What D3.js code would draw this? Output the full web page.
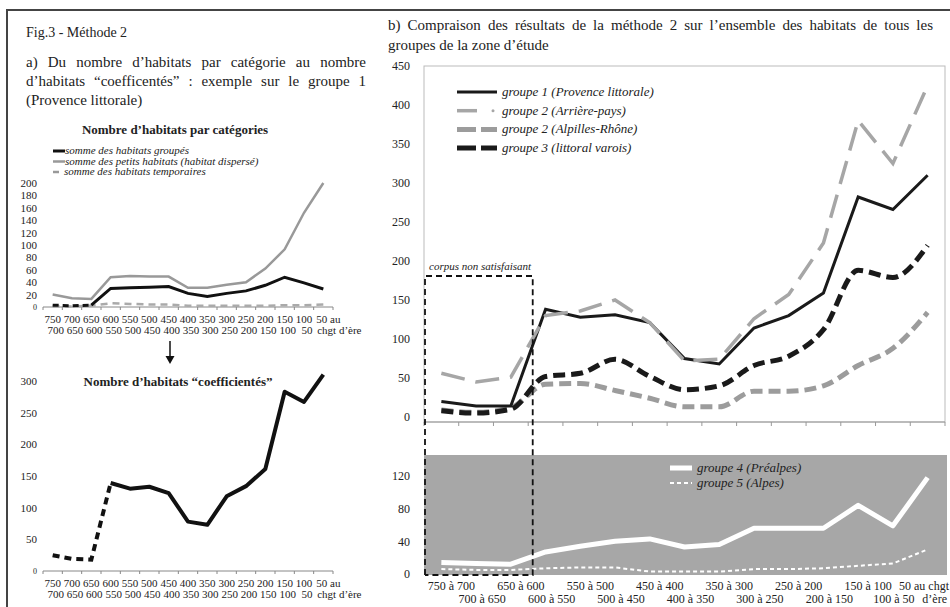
<!DOCTYPE html>
<html>
<head>
<meta charset="utf-8">
<script src="https://cdn.jsdelivr.net/npm/d3@7"></script>
<style>
body { margin: 0; background: #fff; }
svg { display: block; font-family: "Liberation Serif", "DejaVu Serif", serif; }
svg text { font-family: "Liberation Serif", "DejaVu Serif", serif !important; fill: #222; }
</style>
</head>
<body>
<div id="chart"></div>
<script>
// categories (periods before our era)
var categories = ["750 à 700","700 à 650","650 à 600","600 à 550","550 à 500","500 à 450","450 à 400",
	"400 à 350","350 à 300","300 à 250","250 à 200","200 à 150","150 à 100","100 à 50","50 au chgt d’ère"];
var shortTop = ["750","700","650","600","550","500","450","400","350","300","250","200","150","100","50 au"];
var shortBottom = ["700","650","600","550","500","450","400","350","300","250","200","150","100","50","chgt d’ère"];
var longTop = ["750 à 700","","650 à 600","","550 à 500","","450 à 400","","350 à 300","","250 à 200","","150 à 100","","50 au chgt"];
var longBottom = ["","700 à 650","","600 à 550","","500 à 450","","400 à 350","","300 à 250","","200 à 150","","100 à 50","d’ère"];

// a) groupe 1 by category
var groupes = [3,2,3,30,31,32,33,22,17,22,26,35,48,39,29];
var petits = [20,14,13,48,50,49,49,31,31,36,40,62,93,152,200];
var temporaires = [1,1,2,6,5,4,4,2,2,2,2,2,3,3,4];
var coefficientes = [25,19,18,139,130,133,123,78,73,118,134,161,283,267,310];

// b) all groups
var g1 = [20,14,14,138,128,131,121,75,68,114,130,159,282,266,310];
var g2Arriere = [56,45,51,130,136,150,121,72,74,126,157,223,380,325,425];
var g2Alpilles = [9,6,12,42,43,34,24,13,13,33,33,40,66,88,134];
var g3 = [8,5,10,52,56,74,52,35,40,66,78,112,188,179,220];
var g4 = [14,13,12,27,34,40,43,33,36,56,56,56,84,59,118];
var g5 = [6,5,5,7,8,8,3,3,3,6,6,7,10,13,30];

var ticksTop = [0,20,40,60,80,100,120,140,160,180,200];
var ticksCoef = [0,50,100,150,200,250,300];
var ticksB = [0,50,100,150,200,250,300,350,400,450];
var ticksB2 = [0,40,80,120];

var W = 950, H = 607;
var svg = d3.select('#chart').append('svg').attr('width', W).attr('height', H);
svg.append('rect').attr('width', W).attr('height', H).attr('fill', '#fff');

// frame
svg.append('path').attr('d', 'M7,607V10H950').attr('fill', 'none').attr('stroke', '#444').attr('stroke-width', 2);

function justify(t, width){
	var len = t.node().getComputedTextLength();
	var n = (t.text().match(/ /g) || []).length;
	if (n > 0) t.style('word-spacing', ((width - len) / n) + 'px');
}
function para(x, y, txt, size, width){
	var t = svg.append('text').attr('x', x).attr('y', y).style('font-size', size + 'px').text(txt);
	if (width) justify(t, width);
	return t;
}

// headings
para(26, 37, 'Fig.3 - Méthode 2', 14);
para(26, 67, 'a) Du nombre d’habitats par catégorie au nombre', 15, 340);
para(26, 86, 'd’habitats “coefficentés” : exemple sur le groupe 1', 15, 340);
para(26, 105, '(Provence littorale)', 15);
para(388, 30, 'b) Compraison des résultats de la méthode 2 sur l’ensemble des habitats de tous les', 15, 545);
para(388, 50, 'groupes de la zone d’étude', 15);

///***** left charts *****///
var xl = d3.scaleBand().domain(categories).range([43, 333]);
function cxl(i){ return xl(categories[i]) + xl.bandwidth() / 2; }

function leftAxis(y, ticks, y0){
	var g = svg.append('g').attr('transform', 'translate(43,0)')
		.call(d3.axisLeft(y).tickValues(ticks).tickSize(0).tickPadding(6));
	g.attr('font-family', null);
	g.select('.domain').remove();
	g.selectAll('text').style('font-size', '11px').attr('fill', '#222');
	g.selectAll('text').filter(function(d){ return d === 0; }).style('font-size', '8px').attr('fill', '#777');
	svg.append('line').attr('x1', 43).attr('x2', 333).attr('y1', y0).attr('y2', y0).attr('stroke', '#888');
	svg.selectAll(null).data(d3.range(categories.length + 1)).enter().append('line')
		.attr('x1', function(i){ return 43 + i * xl.step(); }).attr('x2', function(i){ return 43 + i * xl.step(); })
		.attr('y1', y0).attr('y2', y0 + 3).attr('stroke', '#888');
	svg.selectAll(null).data(shortTop).enter().append('text')
		.attr('x', function(d, i){ return cxl(i) + (i == 14 ? 5 : 0); }).attr('y', y0 + 16)
		.attr('text-anchor', 'middle').style('font-size', '11px').text(function(d){ return d; });
	svg.selectAll(null).data(shortBottom).enter().append('text')
		.attr('x', function(d, i){ return cxl(i) + (i == 14 ? 16 : 3); }).attr('y', y0 + 27)
		.attr('text-anchor', 'middle').style('font-size', '11px').text(function(d){ return d; });
}

// top-left
var yTop = d3.scaleLinear().domain([0, 200]).range([307, 183]);
svg.append('text').attr('x', 175).attr('y', 134).attr('text-anchor', 'middle')
	.style('font-size', '13px').style('font-weight', 'bold').text('Nombre d’habitats par catégories');
leftAxis(yTop, ticksTop, 307);

var lineTop = d3.line().x(function(d, i){ return cxl(i); }).y(function(d){ return yTop(d); });
svg.append('path').attr('d', lineTop(temporaires)).attr('fill', 'none').attr('stroke', '#aaa')
	.attr('stroke-width', 2.5).attr('stroke-dasharray', '7,5');
svg.append('path').attr('d', lineTop(petits)).attr('fill', 'none').attr('stroke', '#999').attr('stroke-width', 2.5);
svg.append('path').attr('d', lineTop(groupes.slice(0, 3))).attr('fill', 'none').attr('stroke', '#111')
	.attr('stroke-width', 3).attr('stroke-dasharray', '6,4');
var lineTopI = d3.line().x(function(d){ return cxl(d[0]); }).y(function(d){ return yTop(d[1]); });
svg.append('path').attr('d', lineTopI(groupes.map(function(v, i){ return [i, v]; }).slice(2))).attr('fill', 'none')
	.attr('stroke', '#111').attr('stroke-width', 3);

var legTop = [
	{text: 'somme des habitats groupés', color: '#111', dash: null, w: 3},
	{text: 'somme des petits habitats (habitat dispersé)', color: '#999', dash: null, w: 2.5},
	{text: 'somme des habitats temporaires', color: '#999', dash: '6,50', w: 2.5}
];
legTop.forEach(function(d, i){
	var y = 154 + i * 10.5;
	svg.append('line').attr('x1', 53).attr('x2', 65).attr('y1', y - 3).attr('y2', y - 3)
		.attr('stroke', d.color).attr('stroke-width', d.w).attr('stroke-dasharray', d.dash);
	svg.append('text').attr('x', i == 2 ? 64 : 65).attr('y', y).style('font-size', '11px')
		.style('font-style', 'italic').attr('fill', '#444').text(d.text);
});

// arrow
svg.append('line').attr('x1', 170).attr('x2', 170).attr('y1', 341).attr('y2', 358).attr('stroke', '#111').attr('stroke-width', 1.5);
svg.append('path').attr('d', 'M165.5,356L170,364L174.5,356Z').attr('fill', '#111');

// bottom-left
var yCoef = d3.scaleLinear().domain([0, 300]).range([571, 381]);
svg.append('text').attr('x', 178).attr('y', 386).attr('text-anchor', 'middle')
	.style('font-size', '13px').style('font-weight', 'bold').text('Nombre d’habitats “coefficientés”');
leftAxis(yCoef, ticksCoef, 571);
var lineCoef = d3.line().x(function(d){ return cxl(d[0]); }).y(function(d){ return yCoef(d[1]); });
var coefPts = coefficientes.map(function(v, i){ return [i, v]; });
svg.append('path').attr('d', lineCoef(coefPts.slice(0, 4))).attr('fill', 'none').attr('stroke', '#111')
	.attr('stroke-width', 4).attr('stroke-dasharray', '7,5');
svg.append('path').attr('d', lineCoef(coefPts.slice(3))).attr('fill', 'none').attr('stroke', '#111')
	.attr('stroke-width', 4).attr('stroke-linejoin', 'round');

///***** right charts *****///
var xr = d3.scaleBand().domain(categories).range([424, 945]);
function cxr(i){ return xr(categories[i]) + xr.bandwidth() / 2; }

// upper
var yB = d3.scaleLinear().domain([0, 450]).range([417, 66]);
svg.append('rect').attr('x', 424).attr('y', 66).attr('width', 521).attr('height', 356)
	.attr('fill', 'none').attr('stroke', '#bbb');
svg.append('line').attr('x1', 424).attr('x2', 945).attr('y1', 422).attr('y2', 422).attr('stroke', '#999');
svg.selectAll(null).data(d3.range(categories.length + 1)).enter().append('line')
	.attr('x1', function(i){ return 424 + i * xr.step(); }).attr('x2', function(i){ return 424 + i * xr.step(); })
	.attr('y1', 422).attr('y2', 426).attr('stroke', '#999');
var axB = svg.append('g').attr('transform', 'translate(424,0)')
	.call(d3.axisLeft(yB).tickValues(ticksB).tickSize(0).tickPadding(14));
axB.attr('font-family', null);
axB.select('.domain').remove();
axB.selectAll('text').style('font-size', '12px').attr('fill', '#222');

var lineB = d3.line().x(function(d, i){ return cxr(i); }).y(function(d){ return yB(d); });
var smoothB = d3.line().x(function(d, i){ return cxr(i); }).y(function(d){ return yB(d); }).curve(d3.curveMonotoneX);
var seriesB = [
	{data: g2Alpilles, color: '#9c9c9c', w: 5, dash: '12,6', gen: smoothB, label: 'groupe 2 (Alpilles-Rhône)'},
	{data: g3, color: '#1a1a1a', w: 5, dash: '12,6', gen: smoothB, label: 'groupe 3 (littoral varois)'},
	{data: g1, color: '#1a1a1a', w: 3, dash: null, gen: lineB, label: 'groupe 1 (Provence littorale)'},
	{data: g2Arriere, color: '#a6a6a6', w: 3.5, dash: '24,11', gen: lineB, label: 'groupe 2 (Arrière-pays)'}
];
seriesB.forEach(function(s){
	svg.append('path').attr('d', s.gen(s.data)).attr('fill', 'none').attr('stroke', s.color)
		.attr('stroke-width', s.w).attr('stroke-dasharray', s.dash);
});

// legend (upper)
var legOrder = [2, 3, 0, 1];
legOrder.forEach(function(k, i){
	var s = seriesB[k], y = 92 + i * 18.7;
	if (k == 3) {
		svg.append('line').attr('x1', 457).attr('x2', 477).attr('y1', y).attr('y2', y).attr('stroke', s.color).attr('stroke-width', s.w);
		svg.append('circle').attr('cx', 493).attr('cy', y).attr('r', 1.5).attr('fill', s.color);
	} else {
		svg.append('line').attr('x1', 457).attr('x2', 497).attr('y1', y).attr('y2', y).attr('stroke', s.color)
			.attr('stroke-width', s.w).attr('stroke-dasharray', s.dash ? '19,5' : null);
	}
	svg.append('text').attr('x', 502).attr('y', y + 4).style('font-size', '13px').style('font-style', 'italic')
		.attr('fill', '#333').text(s.label);
});

// lower
var yB2 = d3.scaleLinear().domain([0, 120]).range([574, 476]);
svg.append('rect').attr('x', 424).attr('y', 455).attr('width', 523).attr('height', 120).attr('fill', '#a7a7a7');
var axB2 = svg.append('g').attr('transform', 'translate(424,0)')
	.call(d3.axisLeft(yB2).tickValues(ticksB2).tickSize(0).tickPadding(14));
axB2.attr('font-family', null);
axB2.select('.domain').remove();
axB2.selectAll('text').style('font-size', '12px').attr('fill', '#222');

var lineB2 = d3.line().x(function(d, i){ return cxr(i); }).y(function(d){ return yB2(d); });
svg.append('path').attr('d', lineB2(g5)).attr('fill', 'none').attr('stroke', '#fff')
	.attr('stroke-width', 2).attr('stroke-dasharray', '4,3');
svg.append('path').attr('d', lineB2(g4)).attr('fill', 'none').attr('stroke', '#fff')
	.attr('stroke-width', 5).attr('stroke-linejoin', 'round');

svg.append('line').attr('x1', 670).attr('x2', 692).attr('y1', 468).attr('y2', 468).attr('stroke', '#fff').attr('stroke-width', 5);
svg.append('line').attr('x1', 670).attr('x2', 692).attr('y1', 483).attr('y2', 483).attr('stroke', '#fff')
	.attr('stroke-width', 2).attr('stroke-dasharray', '4,3');
svg.append('text').attr('x', 697).attr('y', 472).style('font-size', '13px').style('font-style', 'italic').attr('fill', '#222').text('groupe 4 (Préalpes)');
svg.append('text').attr('x', 697).attr('y', 487).style('font-size', '13px').style('font-style', 'italic').attr('fill', '#222').text('groupe 5 (Alpes)');

// x labels (right)
svg.selectAll(null).data(longTop).enter().append('text')
	.attr('x', function(d, i){ return i == 14 ? 949 : cxr(i) + 10; }).attr('y', 590)
	.attr('text-anchor', function(d, i){ return i == 14 ? 'end' : 'middle'; })
	.style('font-size', '12px').text(function(d){ return d; });
svg.selectAll(null).data(longBottom).enter().append('text')
	.attr('x', function(d, i){ return i == 14 ? 947 : (i == 13 ? cxr(i) + 1 : cxr(i) + 6); })
	.attr('y', 603)
	.attr('text-anchor', function(d, i){ return i == 14 ? 'end' : 'middle'; })
	.style('font-size', '12px').text(function(d){ return d; });

// corpus non satisfaisant
var boxR = cxr(2) + xr.step() * 0.63;
svg.append('path').attr('d', 'M425,575V276H' + boxR + 'V575H425').attr('fill', 'none').attr('stroke', '#111')
	.attr('stroke-width', 1.8).attr('stroke-dasharray', '6,4');
svg.append('text').attr('x', 429).attr('y', 270).style('font-size', '11px').style('font-style', 'italic')
	.attr('fill', '#333').text('corpus non satisfaisant');
</script>
</body>
</html>
